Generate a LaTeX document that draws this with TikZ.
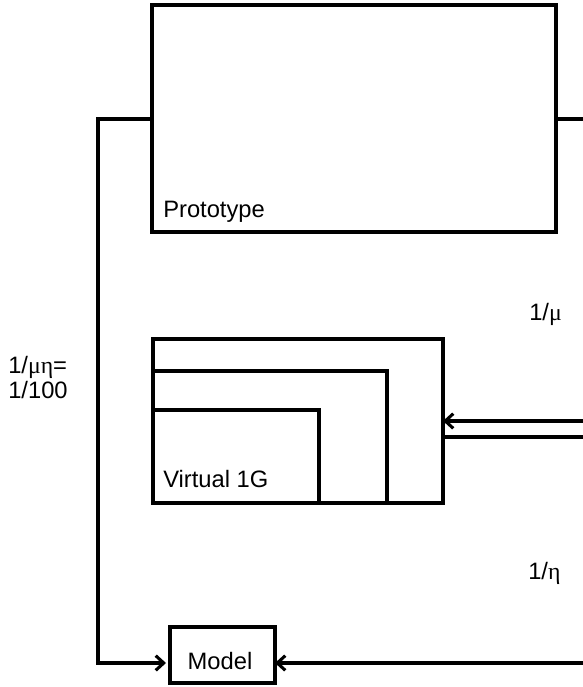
\documentclass[tikz,border=0pt]{standalone}
\usepackage{fontspec}
\setmainfont{Liberation Sans}
\newfontfamily\gr{Liberation Serif}
\usetikzlibrary{arrows.meta,fit}
\begin{document}
\begin{tikzpicture}[x=0.75pt,y=-0.75pt,
  line/.style={line width=2.3pt,line cap=butt},
  arr/.style={line,-{Straight Barb[length=6pt,width=11pt,line width=2.3pt]}},
  boxs/.style={draw,line width=2.3pt,inner sep=0pt},
  lab/.style={anchor=base west,inner sep=0pt,font=\fontsize{17.8}{20}\selectfont}]
\useasboundingbox (0,0) rectangle (583,687);
% box corners
\coordinate (p1) at (152,5);   \coordinate (p2) at (556,232);
\coordinate (v1) at (153,339); \coordinate (v2) at (443,503);
\coordinate (m1) at (153,371); \coordinate (m2) at (387,503);
\coordinate (i1) at (153,410); \coordinate (i2) at (319,503);
\coordinate (d1) at (170,627); \coordinate (d2) at (275,683);
\node[boxs,fit=(p1)(p2)] (proto) {};
\node[boxs,fit=(v1)(v2)] (virt) {};
\node[boxs,fit=(m1)(m2)] (virtm) {};
\node[boxs,fit=(i1)(i2)] (virti) {};
\node[boxs,fit=(d1)(d2)] (model) {};
% texts
\node[lab] (tproto) at (163,217) {Prototype};
\node[lab] (tvirt) at (163,487) {Virtual 1G};
\node[lab,anchor=base] (tmodel) at (220,669) {Model};
\node[lab] (tmu) at (529,320) {1/{\gr μ}};
\node[lab] (teta) at (528,579) {1/{\gr η}};
\node[lab] (tmueta) at (8,373) {1/{\gr μη}=};
\node[lab] (t100) at (8,398) {1/100};
% free ends and corners
\coordinate (lc) at (98,119);
\coordinate (ml) at (170,663);
\coordinate (mr) at (275,663);
\coordinate (e1) at (583,119);
\coordinate (e2) at (583,421);
\coordinate (e3) at (583,437);
\coordinate (e4) at (583,663);
\coordinate (va) at (443,421);
\coordinate (vb) at (443,437);
% connectors
\draw[arr] (proto.west |- lc) -- (lc) |- ([xshift=-3pt]ml);
\draw[line] (proto.east |- e1) -- (e1);
\draw[arr] (e2) -- (va);
\draw[line] (e3) -- (vb);
\draw[arr] (e4) -- (mr);
\end{tikzpicture}
\end{document}
